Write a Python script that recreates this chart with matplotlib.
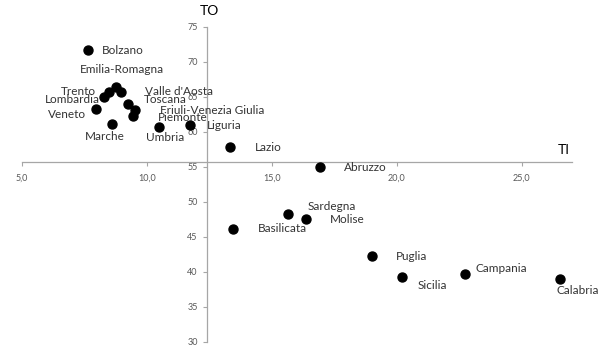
import matplotlib.pyplot as plt
from matplotlib.ticker import FuncFormatter

# regional values: TI (x) and TO (y)
regions = ["Bolzano", "Emilia-Romagna", "Trento", "Lombardia", "Valle d'Aosta",
           "Toscana", "Friuli-Venezia Giulia", "Piemonte", "Veneto", "Marche",
           "Umbria", "Liguria", "Lazio", "Abruzzo", "Sardegna", "Molise",
           "Basilicata", "Puglia", "Sicilia", "Campania", "Calabria"]
ti = [7.64, 8.77, 8.49, 8.30, 8.96, 9.24, 9.52, 9.44, 7.97, 8.60,
      10.48, 11.73, 13.35, 16.93, 15.66, 16.37, 13.44, 19.02, 20.21, 22.74, 26.53]
to = [71.6, 66.4, 65.7, 64.9, 65.7, 64.0, 63.1, 62.3, 63.2, 61.1,
      60.7, 61.0, 57.8, 55.0, 48.3, 47.5, 46.1, 42.2, 39.3, 39.7, 39.0]

# label placement: (dx px, dy px, ha)
label_pos = {
    "Bolzano": (14, 0, "left"), "Emilia-Romagna": (6, 17, "center"),
    "Trento": (-13, 0, "right"), "Lombardia": (-4, -2, "right"),
    "Valle d'Aosta": (24, 0, "left"), "Toscana": (16, 4, "left"),
    "Friuli-Venezia Giulia": (25, -1, "left"), "Piemonte": (25, -2, "left"),
    "Veneto": (-10, -5, "right"), "Marche": (-7, -13, "center"),
    "Umbria": (6, -11, "center"), "Liguria": (17, -1, "left"),
    "Lazio": (24, 0, "left"), "Abruzzo": (24, -1, "left"),
    "Sardegna": (19, 7, "left"), "Molise": (24, 0, "left"),
    "Basilicata": (25, 0, "left"), "Puglia": (24, 0, "left"),
    "Sicilia": (16, -9, "left"), "Campania": (10, 5, "left"),
    "Calabria": (-3, -12, "left"),
}

plt.rcParams['font.family'] = ['Lato', 'DejaVu Sans']

fig = plt.figure(figsize=(6.1, 3.52), dpi=100)
ax = fig.add_axes([0.0356, 0.0293, 0.9016, 0.895])

ax.scatter(ti, to, s=42, color="black", zorder=3)
for name, x, y in zip(regions, ti, to):
    dx, dy, ha = label_pos[name]
    ax.annotate(name, (x, y), xytext=(dx, dy), textcoords="offset pixels",
                ha=ha, va="center", fontsize=8.5, color="#333333")

ax.set_xlim(5, 27)
ax.set_ylim(30, 75)
ax.set_xticks([5, 10, 15, 20, 25])
ax.set_yticks([30, 35, 40, 45, 50, 55, 60, 65, 70, 75])
ax.xaxis.set_major_formatter(FuncFormatter(lambda v, p: f"{v:.1f}".replace(".", ",")))

for s in ["top", "right"]:
    ax.spines[s].set_visible(False)
ax.spines["left"].set_position(("data", 12.4))
ax.spines["bottom"].set_position(("data", 55.6))
for s in ["left", "bottom"]:
    ax.spines[s].set_color("#a6a6a6")
    ax.spines[s].set_linewidth(0.9)
ax.tick_params(colors="#a6a6a6", labelcolor="#595959", labelsize=6.5, length=3, width=0.8)
ax.tick_params(axis="x", pad=5)

ax.text(12.5, 77.2, "TO", ha="center", va="center", fontsize=10, clip_on=False)
ax.text(26.7, 57.4, "TI", ha="center", va="center", fontsize=10)

fig.savefig("out.png", dpi=100)
